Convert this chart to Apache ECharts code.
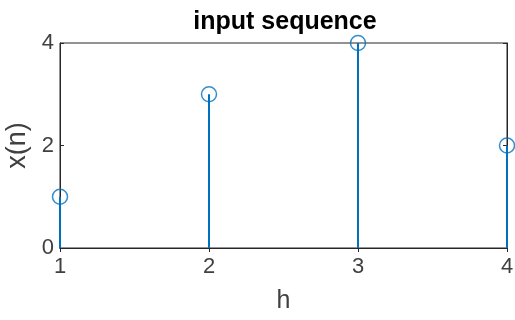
<!DOCTYPE html>
<html>
<head>
<meta charset="utf-8">
<style>
  html, body { margin: 0; padding: 0; background: #ffffff; }
  #chart { width: 515px; height: 320px; }
</style>
<script src="https://cdn.jsdelivr.net/npm/echarts@6/dist/echarts.min.js"></script>
</head>
<body>
<div id="chart"></div>
<script>
// sample indices and input sequence values
const indices = [1, 2, 3, 4];
const values = [1, 3, 4, 2];
const xTicks = [1, 2, 3, 4];
const yTicks = [0, 2, 4];

const stemColor = '#0072BD';
const axisColor = '#262626';
const font = 'Liberation Sans, Arial, sans-serif';

const points = indices.map((h, i) => [h, values[i]]);

const chart = echarts.init(document.getElementById('chart'), null, { renderer: 'canvas' });

const tickInside = { show: true, inside: true, length: 4, lineStyle: { color: axisColor, width: 1 } };

chart.setOption({
  animation: false,
  backgroundColor: '#ffffff',
  title: {
    text: 'input sequence',
    left: 280,
    top: 5,
    textAlign: 'center',
    textStyle: { fontFamily: font, fontSize: 25, fontWeight: 'bold', color: '#000000' }
  },
  grid: {
    left: 60, right: 8, top: 43, bottom: 72,
    outerBoundsMode: 'none',
    containLabel: false,
    show: true, borderColor: axisColor, borderWidth: 1, backgroundColor: '#ffffff'
  },
  xAxis: [
    {
      type: 'value',
      min: xTicks[0], max: xTicks[xTicks.length - 1], interval: 1,
      name: 'h', nameLocation: 'middle', nameGap: 41,
      nameTextStyle: { fontFamily: font, fontSize: 25, color: '#404040' },
      axisLine: { show: true, lineStyle: { color: axisColor, width: 1 } },
      axisTick: tickInside,
      axisLabel: { fontFamily: font, fontSize: 22, color: '#404040', margin: 8 },
      splitLine: { show: false }
    },
    {
      type: 'value', position: 'top',
      min: xTicks[0], max: xTicks[xTicks.length - 1], interval: 1,
      axisLine: { show: true, lineStyle: { color: axisColor, width: 1 } },
      axisTick: tickInside,
      axisLabel: { show: false },
      splitLine: { show: false }
    }
  ],
  yAxis: [
    {
      type: 'value',
      min: yTicks[0], max: yTicks[yTicks.length - 1], interval: 2,
      name: 'x(n)', nameLocation: 'middle', nameGap: 27,
      nameTextStyle: { fontFamily: font, fontSize: 27, color: '#404040' },
      axisLine: { show: true, lineStyle: { color: axisColor, width: 1 } },
      axisTick: tickInside,
      axisLabel: { fontFamily: font, fontSize: 22, color: '#404040', margin: 6 },
      splitLine: { show: false }
    },
    {
      type: 'value', position: 'right',
      min: yTicks[0], max: yTicks[yTicks.length - 1], interval: 2,
      axisLine: { show: true, lineStyle: { color: axisColor, width: 1 } },
      axisTick: tickInside,
      axisLabel: { show: false },
      splitLine: { show: false }
    }
  ],
  series: [
    {
      // stems
      type: 'bar',
      data: points,
      barWidth: 2,
      clip: false,
      itemStyle: { color: stemColor },
      z: 3
    },
    {
      // stem heads
      type: 'scatter',
      data: points,
      symbol: 'circle',
      symbolSize: 15,
      clip: false,
      itemStyle: { color: 'rgba(0,0,0,0)', borderColor: stemColor, borderWidth: 1.5 },
      z: 4
    }
  ]
});
</script>
</body>
</html>
